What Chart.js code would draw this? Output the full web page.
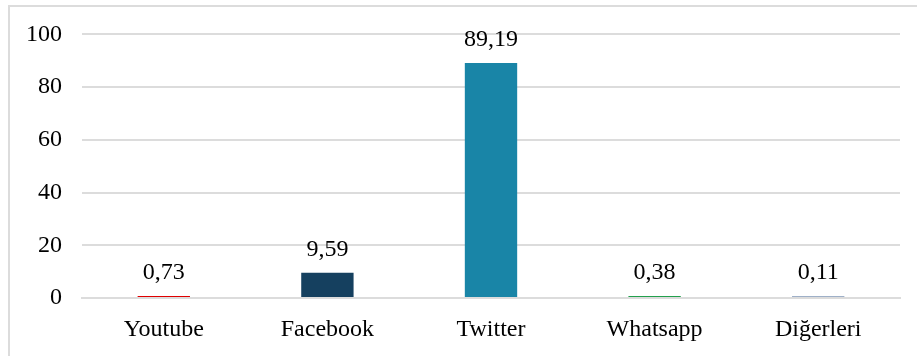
<!DOCTYPE html>
<html>
<head>
<meta charset="utf-8">
<script src="https://cdn.jsdelivr.net/npm/chart.js@4/dist/chart.umd.min.js"></script>
<style>
    body { margin: 0; background: #fff; }
    #wrap { position: relative; width: 917px; height: 356px; }
    #frame {
        position: absolute; left: 8px; top: 5px; width: 940px; height: 400px;
        border-left: 2px solid #dcdcdc; border-top: 2px solid #dcdcdc;
        pointer-events: none;
    }
</style>
</head>
<body>
<div id="wrap">
    <canvas id="chart" width="917" height="356"></canvas>
    <div id="frame"></div>
</div>
<script>
// Chart data
const categories = ['Youtube', 'Facebook', 'Twitter', 'Whatsapp', 'Diğerleri'];
const shares = [0.73, 9.59, 89.19, 0.38, 0.11];
const barColors = ['#e00000', '#15405f', '#1985a7', '#23a04c', '#9fb0c8'];
const yTicks = [0, 20, 40, 60, 80, 100];

const FONT = "'Liberation Serif', 'Times New Roman', serif";

// Draw the value above each bar, with a comma decimal separator
const valueLabels = {
    id: 'valueLabels',
    afterDatasetsDraw: function(chart) {
        const ctx = chart.ctx;
        const meta = chart.getDatasetMeta(0);
        ctx.save();
        ctx.font = '24px ' + FONT;
        ctx.fillStyle = '#000';
        ctx.textAlign = 'center';
        ctx.textBaseline = 'middle';
        meta.data.forEach(function(bar, i) {
            const text = shares[i].toFixed(2).replace('.', ',');
            ctx.fillText(text, bar.x, bar.y - 23);
        });
        ctx.restore();
    }
};

new Chart(document.getElementById('chart'), {
    type: 'bar',
    data: {
        labels: categories,
        datasets: [{
            data: shares,
            backgroundColor: barColors,
            barPercentage: 0.32,
            categoryPercentage: 1.0,
            minBarLength: 2
        }]
    },
    options: {
        responsive: false,
        animation: false,
        layout: { padding: { top: 22, right: 17, left: 0, bottom: 0 } },
        plugins: {
            legend: { display: false },
            tooltip: { enabled: false }
        },
        scales: {
            x: {
                grid: { display: false, drawTicks: false },
                border: { display: true, color: '#dcdcdc', width: 2 },
                ticks: {
                    color: '#000',
                    font: { family: FONT, size: 24 },
                    padding: 17
                },
                afterFit: function(scale) { scale.height = 58; }
            },
            y: {
                min: 0,
                max: 100,
                afterBuildTicks: function(scale) {
                    scale.ticks = yTicks.map(v => ({ value: v }));
                },
                grid: { color: '#dcdcdc', lineWidth: 2, drawTicks: false },
                border: { display: false },
                ticks: {
                    color: '#000',
                    font: { family: FONT, size: 24 },
                    padding: 20
                },
                afterFit: function(scale) { scale.width = 82; }
            }
        }
    },
    plugins: [valueLabels]
});
</script>
</body>
</html>
